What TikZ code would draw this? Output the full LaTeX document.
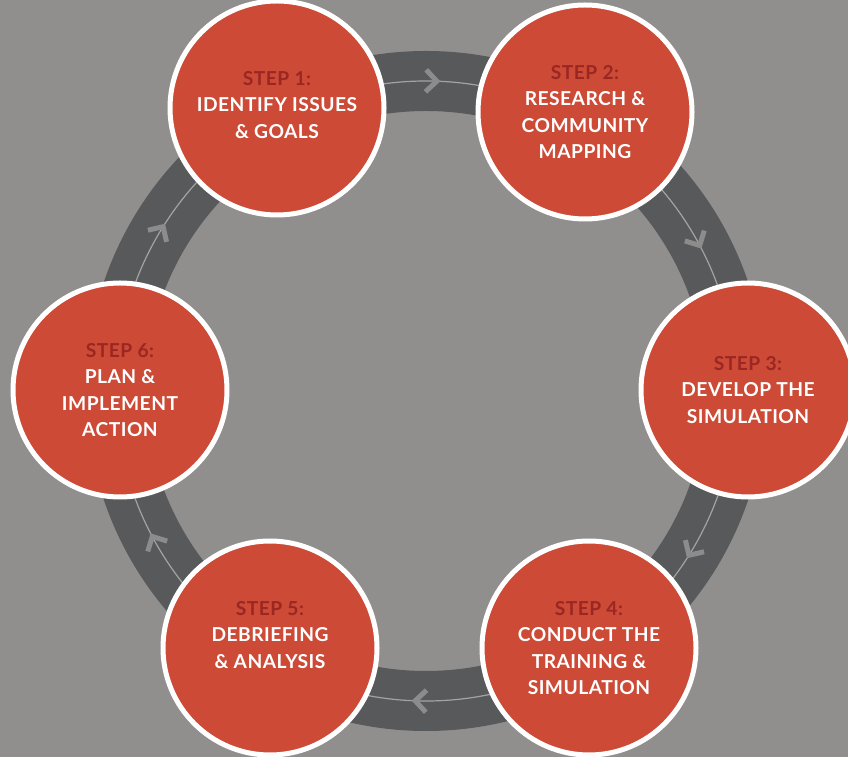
\documentclass[tikz,border=0pt]{standalone}
\usepackage{fontspec}
\setmainfont{Lato}[LetterSpace=2.5]
\definecolor{bg}{HTML}{908F8D}
\definecolor{ringcol}{HTML}{58595B}
\definecolor{ringline}{HTML}{A3A3A3}
\definecolor{chevcol}{HTML}{8C8C8C}
\definecolor{stepred}{HTML}{CC4A36}
\definecolor{steplabel}{HTML}{9B2723}
\begin{document}
\begin{tikzpicture}[x=1pt,y=1pt,
  stepcircle/.style={circle, draw=white, line width=5pt, fill=stepred,
    minimum size=214pt, inner sep=0pt, text=white,
    font=\bfseries\fontsize{19.2}{26.5}\selectfont, align=center},
  chevron/.style={draw=chevcol, line width=5pt, line cap=butt, line join=miter},
  ringband/.style={draw=ringcol, line width=60pt},
  ringthin/.style={draw=ringline, line width=1.2pt}
]
\useasboundingbox (0,0) rectangle (848,757);
\clip (0,0) rectangle (848,757);
\fill[bg] (0,0) rectangle (848,757);
\coordinate (c) at (426,366);
\draw[ringband] (c) circle (310);
\draw[ringthin] (c) circle (310);
\foreach \a in {88,28,-32,-92,208,148} {
  \draw[chevron, shift={(c)}, rotate=\a] (299,11) -- (310,0) -- (321,11);
}
\node[stepcircle] (s1) at (277,649) {\textcolor{steplabel}{STEP 1:}\\IDENTIFY ISSUES\\\& GOALS\\[-20pt]\mbox{}};
\node[stepcircle] (s2) at (585,645) {\textcolor{steplabel}{STEP 2:}\\RESEARCH \&\\COMMUNITY\\MAPPING};
\node[stepcircle] (s3) at (748,367) {\textcolor{steplabel}{STEP 3:}\\DEVELOP THE\\SIMULATION};
\node[stepcircle] (s4) at (589,109) {\textcolor{steplabel}{STEP 4:}\\CONDUCT THE\\TRAINING \&\\SIMULATION};
\node[stepcircle] (s5) at (270,109) {\textcolor{steplabel}{STEP 5:}\\DEBRIEFING\\\& ANALYSIS\\[0pt]\mbox{}};
\node[stepcircle] (s6) at (120,367) {\textcolor{steplabel}{STEP 6:}\\PLAN \&\\IMPLEMENT\\ACTION};
\end{tikzpicture}
\end{document}
